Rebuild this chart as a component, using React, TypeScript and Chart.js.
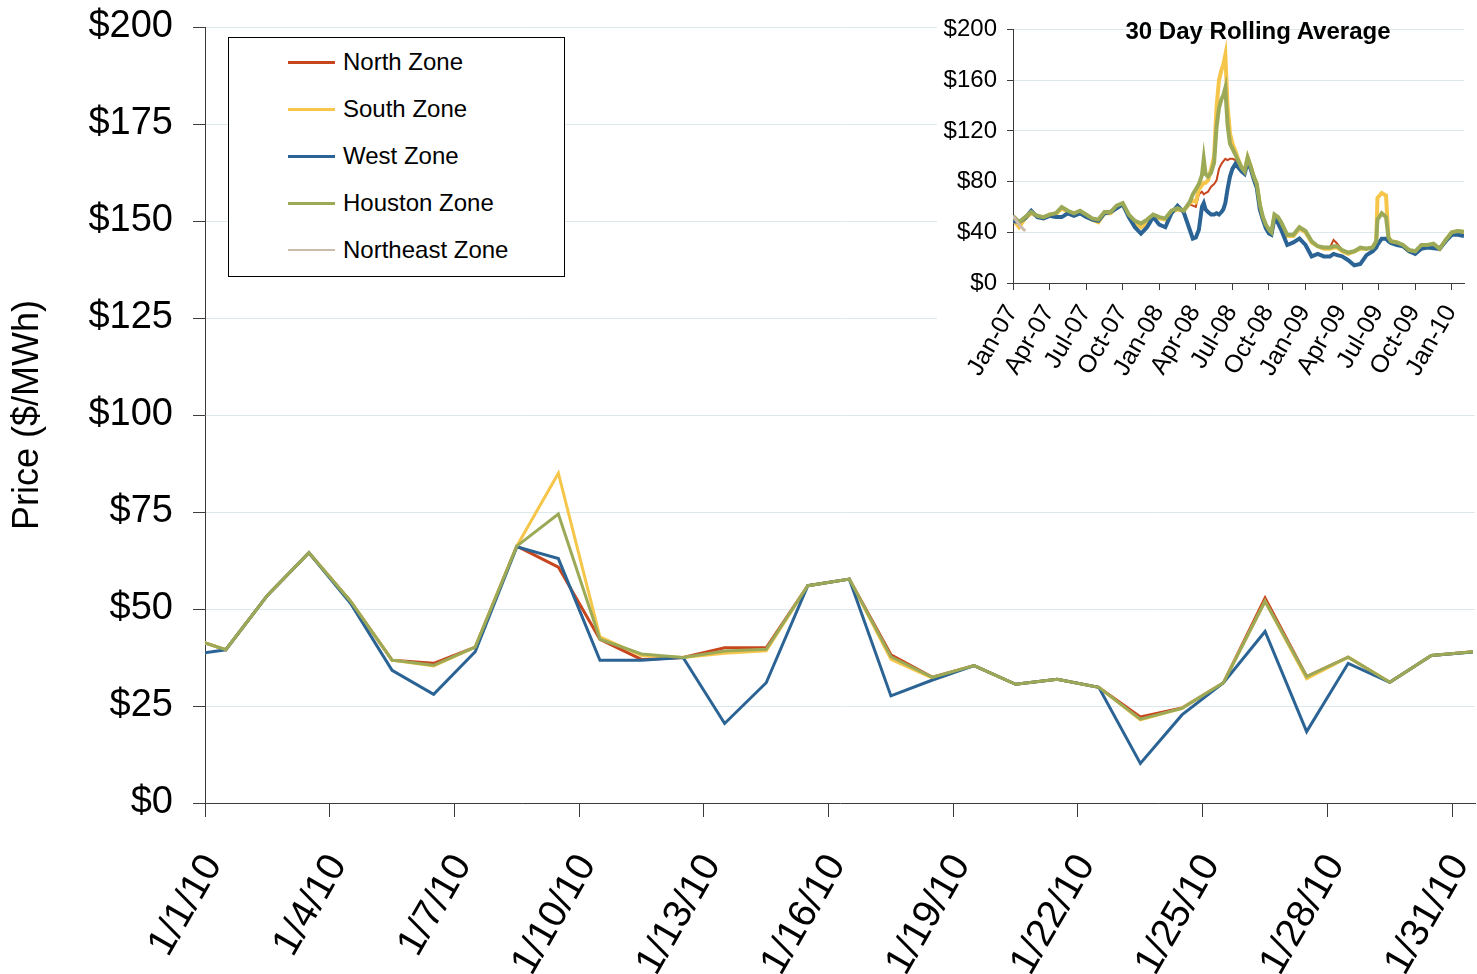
import React, { useEffect, useRef } from "react";
import { Chart, registerables } from "chart.js";

Chart.register(...registerables);

const FONT = "'Liberation Sans', Arial, Helvetica, sans-serif";
Chart.defaults.font.family = FONT;

// ---------- Main chart: daily prices, January 2010 ----------
// first entry (12/31/09) only shows as the line entering from the left edge
const dailyDates = [
  "12/31/09", "1/1/10", "1/2/10", "1/3/10", "1/4/10", "1/5/10", "1/6/10", "1/7/10",
  "1/8/10", "1/9/10", "1/10/10", "1/11/10", "1/12/10", "1/13/10", "1/14/10", "1/15/10",
  "1/16/10", "1/17/10", "1/18/10", "1/19/10", "1/20/10", "1/21/10", "1/22/10", "1/23/10",
  "1/24/10", "1/25/10", "1/26/10", "1/27/10", "1/28/10", "1/29/10", "1/30/10", "1/31/10",
];
const northDaily = [
  43.0, 39.5, 53.5, 64.5, 52.0, 36.8, 36.0, 40.2, 66.2, 60.8, 42.2, 37.0, 37.5, 40.0, 40.0, 56.0,
  57.7, 38.2, 32.4, 35.4, 30.6, 31.9, 29.8, 22.2, 24.5, 31.0, 52.8, 32.6, 37.6, 31.1, 38.0, 39.0,
];
const southDaily = [
  43.0, 39.5, 53.5, 64.5, 52.0, 36.8, 35.3, 40.2, 66.2, 85.0, 42.8, 38.0, 37.5, 38.6, 39.2, 56.0,
  57.7, 37.0, 32.2, 35.4, 30.6, 31.9, 29.8, 21.4, 24.4, 31.0, 52.0, 32.0, 37.6, 31.1, 38.0, 39.0,
];
const westDaily = [
  38.0, 39.5, 53.5, 64.5, 51.5, 34.2, 28.0, 39.0, 66.0, 63.0, 36.8, 36.8, 37.5, 20.5, 31.0, 56.0,
  57.7, 27.6, 31.7, 35.4, 30.6, 31.9, 29.8, 10.2, 22.7, 31.0, 44.2, 18.4, 36.0, 31.1, 38.0, 38.9,
];
const houstonDaily = [
  43.0, 39.5, 53.5, 64.5, 52.0, 36.8, 35.5, 40.2, 66.2, 74.5, 42.2, 38.4, 37.5, 39.2, 39.6, 56.0,
  57.7, 37.7, 32.4, 35.4, 30.6, 31.9, 29.8, 21.6, 24.4, 31.0, 52.0, 32.6, 37.6, 31.1, 38.0, 39.0,
];
const dailyTickDays = [0, 3, 6, 9, 12, 15, 18, 21, 24, 27, 30];
const dailyTickLabels = [
  "1/1/10", "1/4/10", "1/7/10", "1/10/10", "1/13/10", "1/16/10",
  "1/19/10", "1/22/10", "1/25/10", "1/28/10", "1/31/10",
];

// ---------- Inset: 30 day rolling average, Jan 2007 - Jan 2010 ----------
// months since 1 Jan 2007
const insetMonths = [
  0, 0.5, 1, 1.5, 2, 2.5, 3, 3.5, 4, 4.5, 5, 5.5, 6, 6.5, 7, 7.5, 8, 8.5, 9, 9.5,
  10, 10.5, 11, 11.5, 12, 12.5, 13, 13.5, 14, 14.5,
  14.75, 15, 15.25, 15.5, 15.65, 15.8, 16, 16.25, 16.5, 16.7, 16.9, 17.1, 17.25, 17.42,
  17.6, 17.8, 18, 18.25, 18.5, 18.75, 19, 19.25, 19.5, 19.75, 20,
  20.25, 20.5, 20.75, 21, 21.2, 21.45, 21.75, 22, 22.5, 23, 23.5, 24, 24.5, 25, 25.5,
  26, 26.3, 26.6, 27, 27.5, 28, 28.5, 29, 29.5, 29.8, 29.9, 30.25, 30.6, 30.8, 31,
  31.5, 32, 32.5, 33, 33.5, 34, 34.5, 35, 35.5, 36, 36.5, 37,
];
const northRolling = [
  52, 48, 51, 55, 53, 51, 54, 55, 59, 56, 54, 56, 53, 50, 49, 55, 55, 60, 62, 53,
  48, 45, 49, 53, 51, 50, 56, 58, 57, 62,
  61, 60, 70, 72, 70, 71, 72, 76, 78, 81, 90, 94, 96, 98,
  97, 98, 98, 97, 94, 90, 87, 98, 91, 84, 78,
  62, 52, 46, 42, 40, 54, 51, 46, 38, 38, 44, 41, 33, 29, 28,
  28, 34, 31, 26, 24, 25, 28, 27, 28, 33, 50, 55, 52, 36, 33,
  32, 30, 26, 25, 30, 30, 31, 27, 34, 40, 41, 40,
];
const southRolling = [
  50, 44, 51, 55, 53, 51, 54, 54, 59, 56, 54, 56, 53, 50, 48, 55, 55, 60, 62, 53,
  47, 44, 48, 53, 51, 50, 56, 58, 57, 63,
  65, 64, 74, 77, 79, 79, 81, 90, 100, 139, 160, 168, 172, 180,
  140, 118, 110, 104, 97, 91, 88, 99, 92, 84, 78,
  61, 51, 45, 41, 40, 53, 51, 47, 37, 37, 43, 40, 32, 29, 27,
  27, 28, 28, 25, 23, 25, 27, 27, 28, 33, 67, 71, 69, 36, 33,
  32, 29, 25, 24, 29, 29, 30, 27, 34, 40, 41, 40,
];
const westRolling = [
  49, 48, 51, 57, 52, 51, 53, 52, 52, 55, 53, 55, 52, 50, 49, 55, 56, 59, 62, 52,
  44, 39, 44, 52, 46, 44, 55, 61, 56, 42,
  35, 36, 42, 60, 63, 58, 56, 54, 54, 55, 54, 56, 58, 63,
  74, 84, 90, 94, 91, 88, 86, 95, 90, 82, 75,
  58, 50, 43, 39, 38, 51, 47, 42, 30, 32, 35, 30, 21, 23, 21,
  21, 23, 22, 21, 18, 14, 15, 22, 25, 28, 30, 35, 35, 33, 31.5,
  30, 29, 25, 23, 27, 28, 27.5, 27, 33, 38, 38, 37,
];
const houstonRolling = [
  53, 48, 52, 56, 53, 52, 54, 55, 60, 57, 55, 57, 54, 51, 50, 56, 56, 61, 63, 54,
  49, 47, 50, 54, 52, 51, 57, 59, 57, 64,
  70, 74, 78, 85, 98, 86, 84, 87, 95, 123, 138, 145, 148, 154,
  125, 110, 106, 101, 96, 91, 88, 99, 92, 84, 78,
  62, 52, 46, 42, 40, 54, 52, 48, 38, 38, 44, 41, 33, 29, 28,
  28, 29, 29, 26, 24, 25, 28, 27, 28, 33, 50, 55, 52, 36, 33,
  32, 30, 26, 25, 30, 30, 31, 27, 34, 40, 41, 40.5,
];
const northeastRolling = [53, 46, 41];
const insetTickMonths = [0, 3, 6, 9, 12, 15, 18, 21, 24, 27, 30, 33, 36];
const insetTickLabels = [
  "Jan-07", "Apr-07", "Jul-07", "Oct-07", "Jan-08", "Apr-08", "Jul-08",
  "Oct-08", "Jan-09", "Apr-09", "Jul-09", "Oct-09", "Jan-10",
];

const COLORS = {
  north: "#C8461E",
  south: "#F6C64A",
  west: "#2B6494",
  houston: "#9CAA58",
  northeast: "#CBBBAA",
};
const GRID = "#DCE9EC";
const AXIS = "#3C3C3C";

const legendItems = [
  { label: "North Zone", color: COLORS.north, width: 3 },
  { label: "South Zone", color: COLORS.south, width: 3 },
  { label: "West Zone", color: COLORS.west, width: 3 },
  { label: "Houston Zone", color: COLORS.houston, width: 3 },
  { label: "Northeast Zone", color: COLORS.northeast, width: 1.5 },
];

function dailyPoints(values: number[]) {
  // each day is plotted at its midday: 1/1/10 00:00 is x = 0
  return values.map((v, i) => ({ x: i - 0.5, y: v, d: dailyDates[i] }));
}
function rollingPoints(values: number[]) {
  return values.map((v, i) => ({ x: insetMonths[i], y: v }));
}

export default function App() {
  const mainRef = useRef<HTMLCanvasElement>(null);
  const insetRef = useRef<HTMLCanvasElement>(null);

  useEffect(() => {
    const mk = (label: string, data: any[], color: string, width: number, order: number) => ({
      label,
      data,
      borderColor: color,
      backgroundColor: color,
      borderWidth: width,
      pointRadius: 0,
      fill: false,
      tension: 0,
      order,
      clip: 0,
    });

    const main = new Chart(mainRef.current as HTMLCanvasElement, {
      type: "line",
      data: {
        datasets: [
          mk("North Zone", dailyPoints(northDaily), COLORS.north, 3, 5),
          mk("South Zone", dailyPoints(southDaily), COLORS.south, 3, 4),
          mk("West Zone", dailyPoints(westDaily), COLORS.west, 3, 3),
          mk("Houston Zone", dailyPoints(houstonDaily), COLORS.houston, 3, 2),
          mk("Northeast Zone", [], COLORS.northeast, 1.5, 1),
        ],
      },
      options: {
        animation: false,
        responsive: false,
        parsing: false as any,
        layout: { padding: { left: 0, right: 2, top: 27, bottom: 0 } },
        plugins: { legend: { display: false }, tooltip: { enabled: false }, title: { display: false } },
        scales: {
          x: {
            type: "linear",
            min: 0,
            max: 30.55,
            afterBuildTicks: (s: any) => {
              s.ticks = dailyTickDays.map((v) => ({ value: v }));
            },
            afterFit: (s: any) => {
              s.height = 171;
              s.paddingLeft = 0;
              s.paddingRight = 0;
            },
            ticks: {
              autoSkip: false,
              minRotation: 60,
              maxRotation: 60,
              padding: 30,
              labelOffset: 8,
              color: "#000",
              font: { size: 39, family: FONT },
              callback: (_v: any, i: number) => dailyTickLabels[i],
            },
            grid: { drawOnChartArea: false, tickLength: 14, color: AXIS, tickColor: AXIS },
            border: { display: true, color: AXIS, width: 1 },
          },
          y: {
            min: 0,
            max: 200,
            afterFit: (s: any) => {
              s.width = 205;
              s.paddingTop = 0;
              s.paddingBottom = 0;
            },
            ticks: {
              stepSize: 25,
              padding: 20,
              color: "#000",
              font: { size: 38, family: FONT },
              callback: (v: any) => "$" + v,
            },
            grid: { color: GRID, tickColor: AXIS, tickLength: 12, lineWidth: 1 },
            border: { display: true, color: AXIS, width: 1 },
            title: {
              display: true,
              text: "Price ($/MWh)",
              color: "#000",
              font: { size: 36, family: FONT },
              padding: { top: 6, bottom: 0 },
            },
          },
        },
      },
    } as any);

    const inset = new Chart(insetRef.current as HTMLCanvasElement, {
      type: "line",
      data: {
        datasets: [
          mk("North Zone", rollingPoints(northRolling), COLORS.north, 2, 5),
          mk("South Zone", rollingPoints(southRolling), COLORS.south, 4, 4),
          mk("West Zone", rollingPoints(westRolling), COLORS.west, 4, 3),
          mk("Houston Zone", rollingPoints(houstonRolling), COLORS.houston, 4, 2),
          mk("Northeast Zone", rollingPoints(northeastRolling), COLORS.northeast, 3, 1),
        ],
      },
      options: {
        animation: false,
        responsive: false,
        parsing: false as any,
        layout: { padding: { left: 0, right: 13, top: 29.5, bottom: 0 } },
        plugins: { legend: { display: false }, tooltip: { enabled: false } },
        scales: {
          x: {
            type: "linear",
            min: 0,
            max: 37,
            afterBuildTicks: (s: any) => {
              s.ticks = insetTickMonths.map((v) => ({ value: v }));
            },
            afterFit: (s: any) => {
              s.height = 112;
              s.paddingLeft = 0;
              s.paddingRight = 0;
            },
            ticks: {
              autoSkip: false,
              minRotation: 60,
              maxRotation: 60,
              padding: 10,
              labelOffset: -1,
              color: "#000",
              font: { size: 25, family: FONT },
              callback: (_v: any, i: number) => insetTickLabels[i],
            },
            grid: { drawOnChartArea: false, tickLength: 7, color: AXIS, tickColor: AXIS },
            border: { display: true, color: AXIS, width: 1 },
          },
          y: {
            min: 0,
            max: 200,
            afterFit: (s: any) => {
              s.width = 76;
              s.paddingTop = 0;
              s.paddingBottom = 0;
            },
            ticks: {
              stepSize: 40,
              padding: 10,
              color: "#000",
              font: { size: 24, family: FONT },
              callback: (v: any) => "$" + v,
            },
            grid: { color: GRID, tickColor: AXIS, tickLength: 6, lineWidth: 1 },
            border: { display: true, color: AXIS, width: 1 },
          },
        },
      },
    } as any);

    return () => {
      main.destroy();
      inset.destroy();
    };
  }, []);

  return (
    <div
      style={{
        position: "fixed",
        left: 0,
        top: 0,
        width: 1477,
        height: 974,
        background: "#fff",
        fontFamily: FONT,
        overflow: "hidden",
      }}
    >
      <canvas
        ref={mainRef}
        width={1477}
        height={974}
        style={{ position: "absolute", left: 0, top: 0, width: 1477, height: 974 }}
      />
      <div
        style={{ position: "absolute", left: 937, top: 0, width: 540, height: 395, background: "#fff" }}
      >
        <canvas
          ref={insetRef}
          width={540}
          height={395}
          style={{ position: "absolute", left: 0, top: 0, width: 540, height: 395 }}
        />
      </div>
      <div
        style={{
          position: "absolute",
          left: 1058,
          top: 17,
          width: 400,
          height: 28,
          lineHeight: "28px",
          textAlign: "center",
          fontWeight: "bold",
          fontSize: 24,
          color: "#000",
          whiteSpace: "nowrap",
        }}
      >
        30 Day Rolling Average
      </div>
      <div
        style={{
          position: "absolute",
          left: 228,
          top: 37,
          width: 337,
          height: 240,
          boxSizing: "border-box",
          border: "1px solid #000",
          background: "#fff",
        }}
      >
        {legendItems.map((it, i) => {
          const cy = 24 + i * 47;
          return (
            <div key={it.label}>
              <div
                style={{
                  position: "absolute",
                  left: 59,
                  top: cy - it.width / 2,
                  width: 47,
                  height: it.width,
                  background: it.color,
                }}
              />
              <div
                style={{
                  position: "absolute",
                  left: 114,
                  top: cy - 15,
                  height: 30,
                  lineHeight: "30px",
                  fontSize: 24,
                  color: "#000",
                  whiteSpace: "nowrap",
                }}
              >
                {it.label}
              </div>
            </div>
          );
        })}
      </div>
    </div>
  );
}
